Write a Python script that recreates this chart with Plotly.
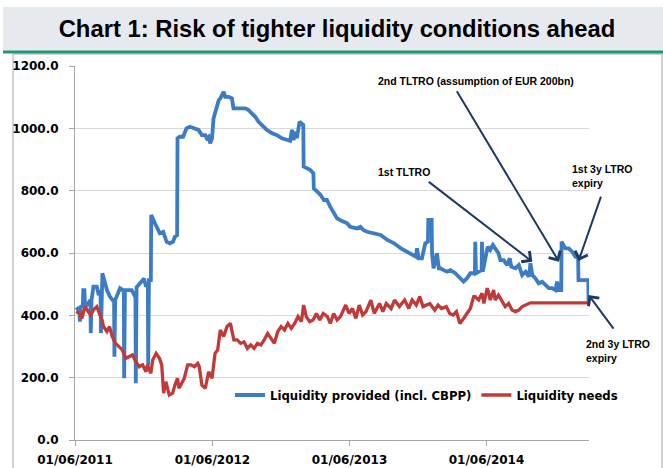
import plotly.graph_objects as go

# ---------------- data ----------------
provided_dates = [
    "2011-06-04", "2011-06-12", "2011-06-14", "2011-06-17", "2011-06-22", "2011-06-23", "2011-06-26", "2011-06-28",
    "2011-07-06", "2011-07-12", "2011-07-13", "2011-07-15", "2011-07-20", "2011-07-29", "2011-08-02", "2011-08-08",
    "2011-08-09", "2011-08-11", "2011-08-13", "2011-08-18", "2011-08-25", "2011-09-02", "2011-09-09", "2011-09-13",
    "2011-09-14", "2011-09-16", "2011-09-29", "2011-10-06", "2011-10-09", "2011-10-10", "2011-10-12", "2011-10-30",
    "2011-11-06", "2011-11-09", "2011-11-10", "2011-11-12", "2011-11-26", "2011-12-02", "2011-12-07", "2011-12-12",
    "2011-12-13", "2011-12-15", "2011-12-20", "2011-12-21", "2011-12-31",
    "2012-01-06", "2012-01-13", "2012-01-22", "2012-01-31", "2012-02-08", "2012-02-17", "2012-02-22", "2012-02-28",
    "2012-02-29", "2012-03-06", "2012-03-15", "2012-03-20", "2012-03-24", "2012-04-02", "2012-04-16", "2012-04-25",
    "2012-05-04", "2012-05-13", "2012-05-17", "2012-05-22", "2012-05-26", "2012-05-31", "2012-06-04", "2012-06-11",
    "2012-06-18", "2012-06-22", "2012-07-01", "2012-07-05", "2012-07-14", "2012-07-23", "2012-07-27", "2012-08-10",
    "2012-08-27", "2012-09-05", "2012-09-14", "2012-09-23", "2012-10-02", "2012-10-11", "2012-10-15", "2012-10-24",
    "2012-11-07", "2012-11-20", "2012-12-03", "2012-12-17", "2012-12-25", "2012-12-30",
    "2013-01-03", "2013-01-08", "2013-01-12", "2013-01-19", "2013-01-29", "2013-01-30", "2013-02-08", "2013-02-17",
    "2013-02-25", "2013-02-26", "2013-03-07", "2013-03-16", "2013-03-25", "2013-04-02", "2013-04-11", "2013-04-20",
    "2013-04-29", "2013-05-08", "2013-05-17", "2013-05-26", "2013-06-03", "2013-06-21", "2013-06-30", "2013-07-09",
    "2013-07-18", "2013-08-05", "2013-08-23", "2013-09-10", "2013-09-28", "2013-10-16", "2013-11-03", "2013-11-19",
    "2013-11-25", "2013-11-28", "2013-12-02", "2013-12-11", "2013-12-20", "2013-12-27", "2013-12-28",
    "2014-01-06", "2014-01-07", "2014-01-11", "2014-01-16", "2014-01-20", "2014-01-25", "2014-01-29", "2014-02-07",
    "2014-02-16", "2014-02-25", "2014-03-10", "2014-03-23", "2014-04-01", "2014-04-10", "2014-04-19", "2014-05-01",
    "2014-05-02", "2014-05-04", "2014-05-16", "2014-05-19", "2014-05-20", "2014-05-22", "2014-05-29", "2014-06-04",
    "2014-06-11", "2014-06-18", "2014-06-24", "2014-07-03", "2014-07-08", "2014-07-17", "2014-07-26", "2014-08-02",
    "2014-08-06", "2014-08-17", "2014-08-26", "2014-09-04", "2014-09-13", "2014-09-22", "2014-09-26", "2014-10-01",
    "2014-10-09", "2014-10-18", "2014-10-27", "2014-11-05", "2014-11-14", "2014-11-23", "2014-12-02", "2014-12-06",
    "2014-12-11", "2014-12-17", "2014-12-18", "2014-12-28",
    "2015-01-06", "2015-01-15", "2015-01-24", "2015-01-31", "2015-02-01", "2015-02-11", "2015-02-20", "2015-02-27",
    "2015-02-28",
]
provided_values = [
    417, 425, 380, 428, 430, 481, 481, 428,
    438, 449, 343, 449, 492, 492, 471, 475,
    343, 520, 535, 513, 481, 460, 449, 449,
    267, 449, 487, 481, 481, 198, 481, 481,
    465, 470, 182, 490, 508, 518, 492, 500,
    241, 513, 513, 722, 695,
    680, 663, 668, 636, 631, 636, 652, 657,
    968, 973, 973, 989, 1000, 1005, 1000, 995,
    978, 978, 968, 973, 952, 968, 1032, 1059,
    1091, 1096, 1117, 1101, 1101, 1096, 1064, 1064,
    1064, 1059, 1048, 1037, 1021, 1011, 1005, 995,
    984, 978, 968, 962, 960, 995,
    962, 989, 968, 1021, 1011, 877, 872, 866,
    856, 807, 797, 786, 770, 770, 748, 727,
    711, 705, 700, 695, 684, 679, 684, 673,
    668, 663, 658, 642, 631, 615, 604, 593,
    588, 615, 583, 583, 631, 636, 706,
    706, 599, 551, 588, 599, 551, 551, 545,
    540, 545, 535, 519, 508, 519, 535, 535,
    636, 535, 545, 545, 636, 540, 583, 620,
    610, 626, 615, 599, 577, 577, 561, 583,
    556, 551, 561, 529, 540, 524, 567, 529,
    519, 503, 508, 497, 487, 487, 481, 508,
    481, 481, 636, 615,
    615, 604, 588, 588, 513, 513, 513, 513,
    444,
]

needs_dates = [
    "2011-06-04", "2011-06-14", "2011-06-19", "2011-06-28", "2011-07-06", "2011-07-13", "2011-07-20", "2011-07-29",
    "2011-08-05", "2011-08-12", "2011-08-16", "2011-08-25", "2011-09-01", "2011-09-08", "2011-09-17", "2011-09-26",
    "2011-10-05", "2011-10-14", "2011-10-23", "2011-11-01", "2011-11-10", "2011-11-19", "2011-11-28", "2011-12-07",
    "2011-12-11", "2011-12-20", "2011-12-25",
    "2012-01-03", "2012-01-12", "2012-01-18", "2012-01-23", "2012-01-29", "2012-02-07", "2012-02-16", "2012-02-22",
    "2012-02-29", "2012-03-04", "2012-03-18", "2012-03-27", "2012-04-05", "2012-04-14", "2012-04-23", "2012-04-27",
    "2012-05-04", "2012-05-13", "2012-05-22", "2012-05-31", "2012-06-04", "2012-06-08", "2012-06-15", "2012-06-22",
    "2012-07-01", "2012-07-10", "2012-07-19", "2012-07-28", "2012-08-06", "2012-08-15", "2012-08-24", "2012-09-02",
    "2012-09-11", "2012-09-20", "2012-09-29", "2012-10-08", "2012-10-17", "2012-10-26", "2012-11-04", "2012-11-13",
    "2012-11-22", "2012-12-01", "2012-12-10", "2012-12-19", "2012-12-28",
    "2013-01-06", "2013-01-15", "2013-01-24", "2013-01-30", "2013-02-06", "2013-02-15", "2013-02-24", "2013-03-05",
    "2013-03-14", "2013-03-23", "2013-04-03", "2013-04-11", "2013-04-20", "2013-04-29", "2013-05-08", "2013-05-22",
    "2013-05-31", "2013-06-09", "2013-06-18", "2013-06-27", "2013-07-06", "2013-07-15", "2013-07-28", "2013-08-06",
    "2013-08-20", "2013-08-29", "2013-09-07", "2013-09-20", "2013-09-29", "2013-10-12", "2013-10-26", "2013-11-06",
    "2013-11-15", "2013-11-26", "2013-12-05", "2013-12-14", "2013-12-23",
    "2014-01-01", "2014-01-14", "2014-01-23", "2014-02-01", "2014-02-14", "2014-02-23", "2014-03-04", "2014-03-13",
    "2014-03-22", "2014-04-01", "2014-04-10", "2014-04-19", "2014-04-28", "2014-05-02", "2014-05-11", "2014-05-20",
    "2014-05-25", "2014-06-03", "2014-06-07", "2014-06-11", "2014-06-20", "2014-06-24", "2014-07-03", "2014-07-12",
    "2014-07-21", "2014-07-30", "2014-08-08", "2014-08-17", "2014-08-26", "2014-09-04", "2014-09-13", "2014-09-26",
    "2015-02-28",
]
needs_values = [
    412, 406, 390, 428, 412, 401, 417, 428,
    406, 385, 364, 348, 364, 332, 310, 299,
    289, 262, 267, 273, 251, 235, 241, 219,
    241, 214, 257,
    278, 262, 241, 150, 187, 144, 150, 176,
    198, 166, 198, 241, 241, 235, 246, 235,
    176, 166, 219, 198, 235, 278, 289, 353,
    332, 364, 374, 321, 321, 310, 315, 294,
    305, 294, 310, 305, 321, 342, 326, 310,
    348, 364, 353, 374, 358,
    374, 396, 380, 433, 396, 380, 385, 406,
    385, 406, 396, 374, 406, 385, 396, 433,
    406, 422, 390, 433, 401, 412, 449, 406,
    438, 412, 438, 422, 449, 428, 449, 422,
    449, 433, 460, 428, 433,
    438, 417, 433, 422, 428, 406, 401, 412,
    374, 390, 406, 422, 460, 460, 449, 471,
    438, 487, 471, 449, 481, 449, 465, 444,
    428, 438, 417, 412, 417, 428, 433, 440,
    440,
]

year_ticks = ["2011-06-01", "2012-06-01", "2013-06-01", "2014-06-01"]
y_ticks = [0, 200, 400, 600, 800, 1000, 1200]

title_text = "Chart 1: Risk of tighter liquidity conditions ahead"
name_provided = "Liquidity provided (incl. CBPP)"
name_needs = "Liquidity needs"

# annotation labels and the data points their arrows point to
labels = ["2nd TLTRO (assumption of EUR 200bn)", "1st TLTRO", "1st 3y LTRO<br>expiry", "2nd 3y LTRO<br>expiry"]
arrow_dates = ["2014-12-11", "2014-10-01", "2015-02-01", "2015-02-28"]
arrow_values = [572, 572, 574, 465]

# ---------------- styling ----------------
BLUE = "#3b7cc5"
RED = "#c03a39"
NAVY = "#1c3a63"
W, H = 663, 468
L, R, T, B = 75, 74, 66, 28
PW, PH = W - L - R, H - T - B
BOLD12 = dict(family="DejaVu Sans", size=12, color="#000000", weight="bold")


def px_x(px):
    return (px - L) / PW


def px_y(py):
    return (H - B - py) / PH


fig = go.Figure()
fig.add_trace(go.Scatter(x=provided_dates, y=provided_values, mode="lines", name=name_provided,
                         line=dict(color=BLUE, width=3.8)))
fig.add_trace(go.Scatter(x=needs_dates, y=needs_values, mode="lines", name=name_needs,
                         line=dict(color=RED, width=3.3)))

shapes = [
    # title band
    dict(type="rect", xref="paper", yref="paper", x0=px_x(3), x1=px_x(663), y0=px_y(51), y1=px_y(7),
         fillcolor="#e6e9ed", line=dict(width=0), layer="below"),
    # green rule under the title
    dict(type="line", xref="paper", yref="paper", x0=px_x(3), x1=px_x(663), y0=px_y(52), y1=px_y(52),
         line=dict(color="#1f9a78", width=3)),
    # chart frame
    dict(type="rect", xref="paper", yref="paper", x0=px_x(13), x1=px_x(662), y0=px_y(475), y1=px_y(54),
         line=dict(color="#a6a6a6", width=1), fillcolor="rgba(0,0,0,0)", layer="below"),
]

ann_font = dict(family="Liberation Sans", size=10.5, color="#000000")
annotations = [
    dict(text="<b>" + labels[0] + "</b>", xref="paper", yref="paper", x=px_x(475.5), y=px_y(80.7),
         showarrow=False, font=ann_font, xanchor="center", yanchor="middle"),
    dict(text="<b>" + labels[1] + "</b>", xref="paper", yref="paper", x=px_x(403.5), y=px_y(171.7),
         showarrow=False, font=ann_font, xanchor="center", yanchor="middle"),
    dict(text="<b>" + labels[2] + "</b>", xref="paper", yref="paper", x=px_x(570), y=px_y(175.5),
         showarrow=False, font=ann_font, xanchor="left", yanchor="middle", align="left"),
    dict(text="<b>" + labels[3] + "</b>", xref="paper", yref="paper", x=px_x(584), y=px_y(350.5),
         showarrow=False, font=ann_font, xanchor="left", yanchor="middle", align="left"),
]
# arrow offsets (tail position relative to tip, in pixels)
arrow_offsets = [(-103, -172), (-105, -81), (23, -66), (26, 35)]
for d, v, (ax, ay) in zip(arrow_dates, arrow_values, arrow_offsets):
    annotations.append(dict(text="", x=d, y=v, xref="x", yref="y", ax=ax, ay=ay, showarrow=True,
                            arrowhead=4, arrowsize=1.3, arrowwidth=2, arrowcolor=NAVY, standoff=0))

fig.update_layout(
    width=W, height=H,
    margin=dict(l=L, r=R, t=T, b=B, autoexpand=False),
    paper_bgcolor="#ffffff", plot_bgcolor="#ffffff",
    title=dict(text="<b>" + title_text + "</b>", x=337 / W, xref="container", xanchor="center",
               y=1 - 29 / H, yref="container", yanchor="middle",
               font=dict(family="Liberation Sans", size=23.8, color="#000000")),
    shapes=shapes,
    annotations=annotations,
    showlegend=True,
    legend=dict(orientation="h", x=px_x(230), y=px_y(395), xanchor="left", yanchor="middle",
                font=dict(family="DejaVu Sans", size=11.7, color="#000000", weight="bold"),
                bgcolor="rgba(0,0,0,0)", itemwidth=30, traceorder="normal"),
    xaxis=dict(type="date", range=["2011-06-01", "2015-03-01"], tickvals=year_ticks, tickformat="%d/%m/%Y",
               showgrid=False, showline=True, linecolor="#a6a6a6", linewidth=1,
               ticks="outside", ticklen=5, tickcolor="#a6a6a6", tickfont=BOLD12, ticklabelstandoff=4,
               zeroline=False),
    yaxis=dict(range=[0, 1200], tickvals=y_ticks, tickformat=".1f", showgrid=True, gridcolor="#d9d9d9",
               gridwidth=1, showline=True, linecolor="#a6a6a6", linewidth=1, ticks="outside", ticklen=5,
               tickcolor="#a6a6a6", tickfont=BOLD12, ticklabelstandoff=8, zeroline=False),
)

fig.write_html("out.html", config={"displayModeBar": False},
               post_script="document.body.style.margin='0';")
